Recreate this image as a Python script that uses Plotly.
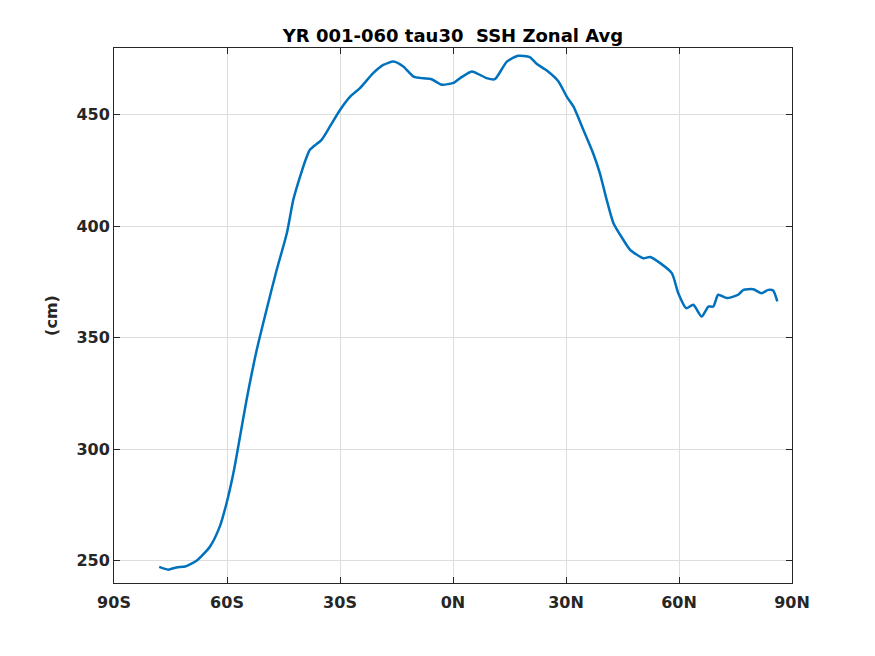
import plotly.graph_objects as go

# zonal average SSH
lat = [-78.0, -75.6, -73.4, -71.1, -68.0, -64.5, -61.9, -60.1, -58.3, -57.0,
       -54.8, -52.1, -49.5, -46.8, -44.1, -42.4, -40.6, -38.8, -38.0, -34.9,
       -32.7, -30.0, -27.3, -24.7, -21.2, -18.5, -15.8, -13.2, -10.5, -7.9,
       -5.7, -3.0, 0.3, 1.9, 5.0, 8.9, 11.1, 14.3, 17.3, 20.4,
       22.2, 24.9, 28.0, 30.2, 32.0, 34.6, 37.2, 39.0, 40.8, 42.6,
       45.2, 47.0, 50.5, 52.3, 55.0, 58.1, 59.8, 61.9, 63.8, 66.0,
       67.8, 69.1, 70.4, 72.7, 75.7, 77.1, 79.7, 81.9, 83.7, 85.0, 86.1]
ssh = [247.2, 246.0, 247.0, 247.4, 250.1, 256.4, 265.4, 275.9, 289.3, 301.3,
       322.2, 344.6, 362.6, 380.5, 397.0, 411.9, 422.3, 431.3, 434.3, 438.8,
       444.7, 452.2, 458.2, 462.0, 468.7, 472.4, 473.9, 471.7, 467.2, 466.4,
       466.0, 463.5, 464.5, 466.5, 469.5, 466.5, 466.0, 473.9, 476.5, 475.9,
       472.9, 469.9, 465.0, 458.2, 453.7, 443.3, 432.8, 423.8, 411.9, 401.4,
       394.0, 389.5, 385.7, 386.2, 383.5, 379.0, 370.0, 363.3, 364.8, 359.5,
       364.0, 364.0, 369.3, 367.8, 369.3, 371.5, 371.8, 370.0, 371.5, 371.2, 366.3]

xtick_vals = [-90, -60, -30, 0, 30, 60, 90]
xtick_text = ["90S", "60S", "30S", "0N", "30N", "60N", "90N"]
ytick_vals = [250, 300, 350, 400, 450]

fig = go.Figure()
fig.add_trace(go.Scatter(
    x=lat, y=ssh, mode="lines",
    line=dict(color="#0072BD", width=2.5, shape="spline", smoothing=0.6),
    showlegend=False,
))

axis_font = dict(family="DejaVu Sans", size=16, color="#262626")
common = dict(
    showgrid=True, gridcolor="#dedede", gridwidth=1,
    showline=True, linecolor="#262626", linewidth=1, mirror="ticks",
    ticks="inside", ticklen=6, tickcolor="#262626",
    tickfont=axis_font, zeroline=False,
)

# the page puts the figure 8 px in from the corner, so margins are shifted
fig.update_layout(
    width=875, height=656,
    paper_bgcolor="white", plot_bgcolor="white",
    margin=dict(l=106, r=91, t=40, b=81),
    title=dict(text="<b>YR 001-060 tau30&nbsp; SSH Zonal Avg</b>",
               x=(453 - 8) / 875, xanchor="center", y=1 - 28 / 656, yanchor="middle",
               font=dict(family="DejaVu Sans", size=18, color="black")),
    xaxis=dict(range=[-90, 90], tickvals=xtick_vals, ticklabelstandoff=5,
               ticktext=["<b>%s</b>" % t for t in xtick_text], **common),
    yaxis=dict(range=[240, 480], tickvals=ytick_vals,
               ticktext=["<b>%d</b>" % v for v in ytick_vals],
               title=dict(text="<b>(cm)</b>", font=axis_font, standoff=14),
               **common),
)

fig.write_html("out.html")
